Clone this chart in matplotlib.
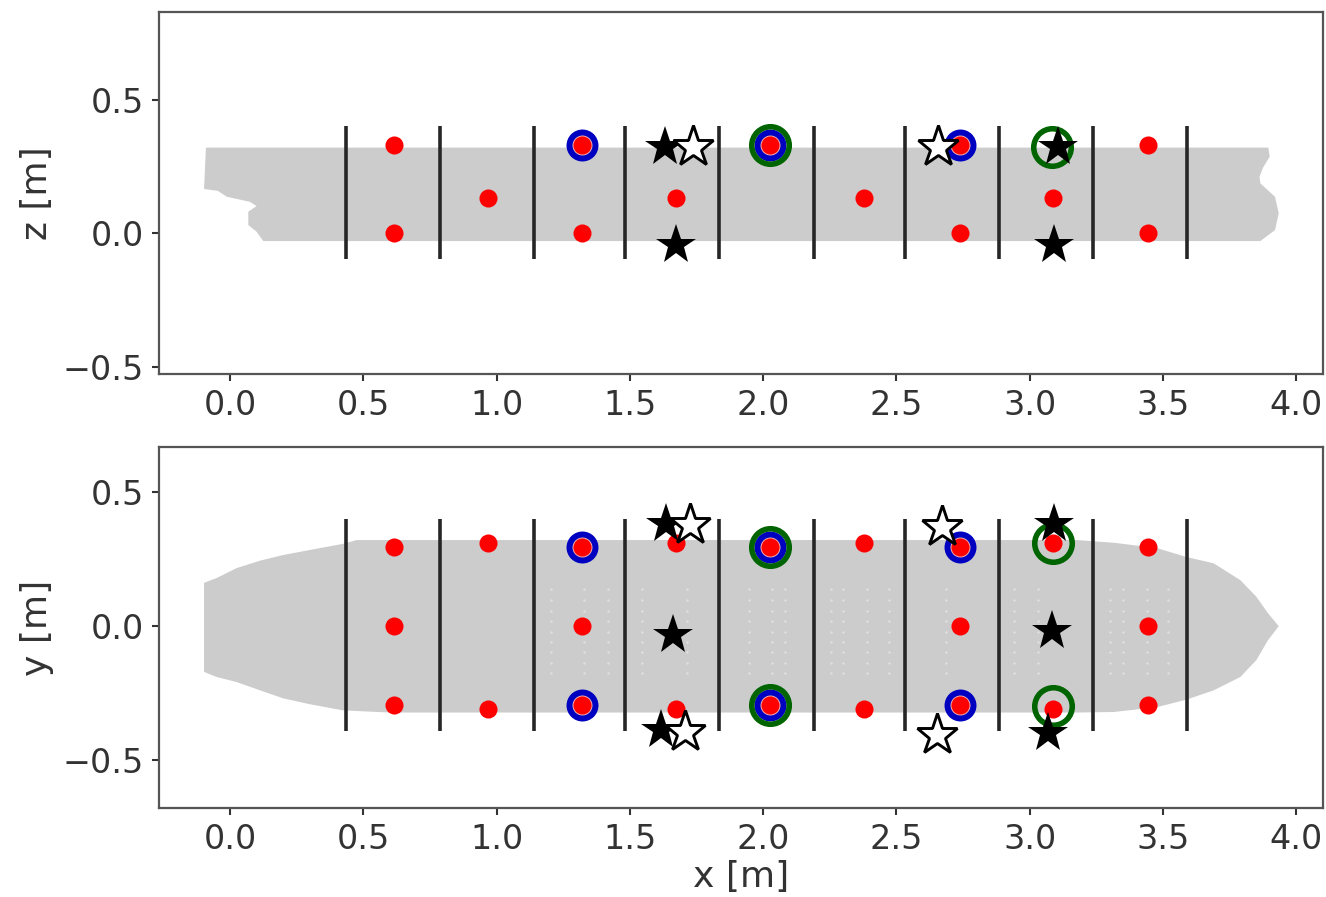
import matplotlib
matplotlib.use("Agg")
import matplotlib.pyplot as plt
import numpy as np

W, H = 1326, 897

# section lines
line_x = [0.435, 0.787, 1.14, 1.482, 1.835, 2.19, 2.533, 2.884, 3.237, 3.59]
line_top = [-0.097, 0.40]
line_bot = [-0.393, 0.40]

# hull outlines
hull_xz_x = [-0.097, -0.09, -0.097, -0.045, -0.012, 0.075, 0.10, 0.069, 0.069, 0.10, 0.125,
             3.865, 3.92, 3.934, 3.92, 3.865, 3.862, 3.875, 3.90, 3.895]
hull_xz_z = [0.32, 0.32, 0.165, 0.158, 0.136, 0.117, 0.101, 0.08, 0.03, 0.005, -0.03,
             -0.03, 0.011, 0.074, 0.136, 0.186, 0.211, 0.245, 0.286, 0.32]
hull_xy_x = [-0.097, -0.05, 0.025, 0.113, 0.20, 0.30, 0.425, 0.475, 3.177, 3.315, 3.477,
             3.59, 3.69, 3.79, 3.85, 3.894, 3.934, 3.894, 3.85, 3.79, 3.69, 3.59,
             3.477, 3.315, 3.177, 0.60, 0.425, 0.30, 0.20, 0.113, 0.025, -0.05, -0.097]
hull_xy_y = [0.162, 0.18, 0.217, 0.245, 0.266, 0.285, 0.308, 0.322, 0.322, 0.312, 0.292,
             0.258, 0.235, 0.172, 0.11, 0.048, 0.0, -0.052, -0.127, -0.19, -0.24, -0.274,
             -0.303, -0.321, -0.323, -0.323, -0.315, -0.292, -0.27, -0.24, -0.209, -0.19, -0.171]

# small gaps in the cloud of points (bottom panel)
gap_x = [1.206, 1.329, 1.417, 1.547, 1.715, 1.947, 2.035, 2.082, 2.254, 2.30, 2.39, 2.473,
         2.686, 2.94, 3.03, 3.30, 3.35, 3.44, 3.52]
gap_y = [0.139, 0.098, 0.057, 0.019, -0.021, -0.059, -0.098, -0.138, -0.175]

# sensors
red_top_x = [0.617, 1.32, 2.026, 2.739, 3.445, 0.968, 1.673, 2.379, 3.088, 0.617, 1.32, 2.739, 3.445]
red_top_z = [0.328, 0.328, 0.328, 0.328, 0.328, 0.133, 0.133, 0.133, 0.133, 0.0, 0.0, 0.0, 0.0]
red_bot_x = [0.617, 0.617, 0.617, 0.968, 0.968, 1.32, 1.32, 1.32, 1.673, 1.673, 2.026, 2.026,
             2.379, 2.379, 2.739, 2.739, 2.739, 3.088, 3.088, 3.445, 3.445, 3.445]
red_bot_y = [0.295, 0.0, -0.295, 0.31, -0.31, 0.295, 0.0, -0.295, 0.31, -0.31, 0.295, -0.295,
             0.31, -0.31, 0.295, 0.0, -0.295, 0.31, -0.31, 0.295, 0.0, -0.295]

blue_top_x = [1.32, 2.026, 2.739]
blue_top_z = [0.328, 0.328, 0.328]
blue_bot_x = [1.32, 2.026, 2.739, 1.32, 2.026, 2.739]
blue_bot_y = [0.295, 0.295, 0.295, -0.295, -0.295, -0.295]

green_top_x = [2.026, 3.083]
green_top_z = [0.328, 0.324]
green_bot_x = [2.026, 2.026, 3.087, 3.087]
green_bot_y = [0.295, -0.295, 0.312, -0.30]

black_top_x = [1.632, 3.105, 1.673, 3.092]
black_top_z = [0.322, 0.322, -0.043, -0.043]
black_bot_x = [1.635, 1.663, 1.616, 3.092, 3.084, 3.067]
black_bot_y = [0.381, -0.034, -0.39, 0.381, -0.019, -0.40]

white_top_x = [1.737, 2.657]
white_top_z = [0.322, 0.322]
white_bot_x = [1.724, 1.706, 2.672, 2.653]
white_bot_y = [0.379, -0.394, 0.371, -0.408]

x_ticks = [0.0, 0.5, 1.0, 1.5, 2.0, 2.5, 3.0, 3.5, 4.0]
y_ticks = [-0.5, 0.0, 0.5]


def draw_panel(ax, hull_x, hull_y, line_span, red, blue, green, black, white):
    ax.fill(hull_x, hull_y, color='#cccccc', lw=0, zorder=1)
    ax.vlines(line_x, line_span[0], line_span[1], color='#262626', lw=2.6, zorder=3)
    ax.plot(blue[0], blue[1], 'o', ms=18.7, mfc='#eeb0b0', mec='#0000c0', mew=4.3, zorder=4)
    ax.plot(green[0], green[1], 'o', ms=27, mfc='none', mec='#006400', mew=4, zorder=5)
    ax.plot(red[0], red[1], 'o', ms=13, color='#ff0000', mew=0, zorder=6)
    ax.plot(black[0], black[1], '*', ms=30, color='black', mew=0, zorder=7)
    ax.plot(white[0], white[1], '*', ms=31, mfc='white', mec='black', mew=2.1, zorder=8)
    ax.set_xlim(-0.266, 4.10)
    ax.set_xticks(x_ticks)
    ax.set_yticks(y_ticks)
    ax.tick_params(labelsize=24, colors='#333333', length=5, width=1.5, pad=6)
    for s in ax.spines.values():
        s.set_color('#555555')
        s.set_linewidth(1.6)


fig = plt.figure(figsize=(W / 100, H / 100), dpi=100)
ax1 = fig.add_axes([159 / W, 1 - 374 / H, (1323 - 159) / W, (374 - 12) / H])
ax2 = fig.add_axes([159 / W, 1 - 808 / H, (1323 - 159) / W, (808 - 447) / H])

draw_panel(ax1, hull_xz_x, hull_xz_z, line_top, (red_top_x, red_top_z), (blue_top_x, blue_top_z),
           (green_top_x, green_top_z), (black_top_x, black_top_z), (white_top_x, white_top_z))
ax1.set_ylim(-0.528, 0.828)
ax1.set_ylabel('z [m]', fontsize=26, color='#333333', labelpad=6)

draw_panel(ax2, hull_xy_x, hull_xy_y, line_bot, (red_bot_x, red_bot_y), (blue_bot_x, blue_bot_y),
           (green_bot_x, green_bot_y), (black_bot_x, black_bot_y), (white_bot_x, white_bot_y))
gx, gy = np.meshgrid(gap_x, gap_y)
ax2.scatter(gx.ravel(), gy.ravel(), s=3, color='#e2e2e2', lw=0, zorder=2)
ax2.set_ylim(-0.68, 0.67)
ax2.set_ylabel('y [m]', fontsize=26, color='#333333', labelpad=6)
ax2.set_xlabel('x [m]', fontsize=26, color='#333333', labelpad=3)

fig.savefig('out.png', dpi=100)
